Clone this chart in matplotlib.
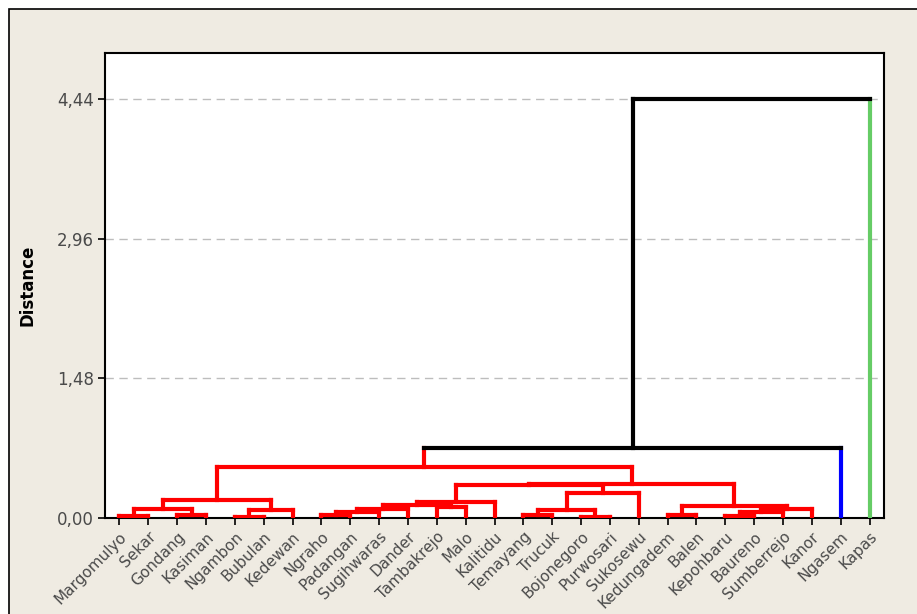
import matplotlib as mpl
mpl.use('Agg')
import matplotlib.pyplot as plt
from matplotlib.patches import Rectangle

# leaf order along the x axis
leaves = ["Margomulyo", "Sekar", "Gondang", "Kasiman", "Ngambon", "Bubulan",
          "Kedewan", "Ngraho", "Padangan", "Sugihwaras", "Dander", "Tambakrejo",
          "Malo", "Kalitidu", "Temayang", "Trucuk", "Bojonegoro", "Purwosari",
          "Sukosewu", "Kedungadem", "Balen", "Kepohbaru", "Baureno", "Sumberrejo",
          "Kanor", "Ngasem", "Kapas"]

# linkage rows: (left child, right child, distance); ids >= len(leaves) point to earlier rows
merges = [
    (0, 1, 0.021),     # 27
    (2, 3, 0.032),     # 28
    (27, 28, 0.10),    # 29
    (4, 5, 0.014),     # 30
    (30, 6, 0.085),    # 31
    (29, 31, 0.19),    # 32
    (7, 8, 0.032),     # 33
    (33, 9, 0.068),    # 34
    (34, 10, 0.10),    # 35
    (11, 12, 0.115),   # 36
    (35, 36, 0.135),   # 37
    (37, 13, 0.173),   # 38
    (14, 15, 0.032),   # 39
    (16, 17, 0.014),   # 40
    (39, 40, 0.085),   # 41
    (41, 18, 0.26),    # 42
    (38, 42, 0.345),   # 43
    (19, 20, 0.032),   # 44
    (21, 22, 0.025),   # 45
    (45, 23, 0.067),   # 46
    (46, 24, 0.10),    # 47
    (44, 47, 0.13),    # 48
    (43, 48, 0.36),    # 49
    (32, 49, 0.54),    # 50
    (50, 25, 0.74),    # 51
    (51, 26, 4.44),    # 52
]

# final partition into three clusters
leaf_group = [0] * 25 + [1, 2]
group_colors = ['#FF0000', '#0000FF', '#66CC66']

yticks = [0.00, 1.48, 2.96, 4.44]

W, H = 917, 614
fig = plt.figure(figsize=(W / 100, H / 100), dpi=100, facecolor='white')
fig.add_artist(Rectangle((9 / W, -0.05), 1.1, 1.05 - 9 / H, transform=fig.transFigure,
                         facecolor='#EFEBE2', edgecolor='black', lw=1.2, zorder=-5))

ax = fig.add_axes([105 / W, 1 - 518 / H, (884 - 105) / W, (518 - 53) / H])
ax.set_facecolor('white')

n = len(leaves)
pos = {i: float(i) for i in range(n)}
height = {i: 0.0 for i in range(n)}
members = {i: {i} for i in range(n)}
for k, (a, b, h) in enumerate(merges):
    node = n + k
    pos[node] = (pos[a] + pos[b]) / 2
    height[node] = h
    members[node] = members[a] | members[b]


def node_color(node):
    groups = {leaf_group[m] for m in members[node]}
    if len(groups) == 1:
        return group_colors[groups.pop()]
    return 'black'


lkw = dict(lw=3.0, solid_capstyle='projecting', zorder=3)
for k, (a, b, h) in enumerate(merges):
    node = n + k
    for child in (a, b):
        ax.plot([pos[child], pos[child]], [height[child], h], color=node_color(child), **lkw)
    ax.plot([pos[a], pos[b]], [h, h], color=node_color(node), **lkw)

for v in yticks[1:]:
    ax.axhline(v, color='#BDBDBD', lw=1.0, dashes=(6, 4), zorder=1)

ax.set_xlim(-0.5, n - 0.5)
ax.set_ylim(0, 4.93)
ax.set_xticks(range(n))
ax.set_xticklabels(leaves, rotation=45, ha='right', rotation_mode='anchor',
                   fontsize=11, color='#4A4A4A')
ax.set_yticks(yticks)
ax.set_yticklabels([f"{v:.2f}".replace('.', ',') for v in yticks],
                   fontsize=12, color='#4A4A4A')
ax.tick_params(axis='both', direction='out', length=5, width=1.2, color='black')
ax.tick_params(axis='x', pad=3)
ax.tick_params(axis='y', pad=3)

for s in ax.spines.values():
    s.set_linewidth(1.5)
    s.set_color('black')

ax.set_ylabel('Distance', fontsize=12, fontweight='bold', color='black')
ax.yaxis.set_label_coords((37 - 105) / 779, 0.5)

fig.savefig('out.png', dpi=100, facecolor=fig.get_facecolor())
